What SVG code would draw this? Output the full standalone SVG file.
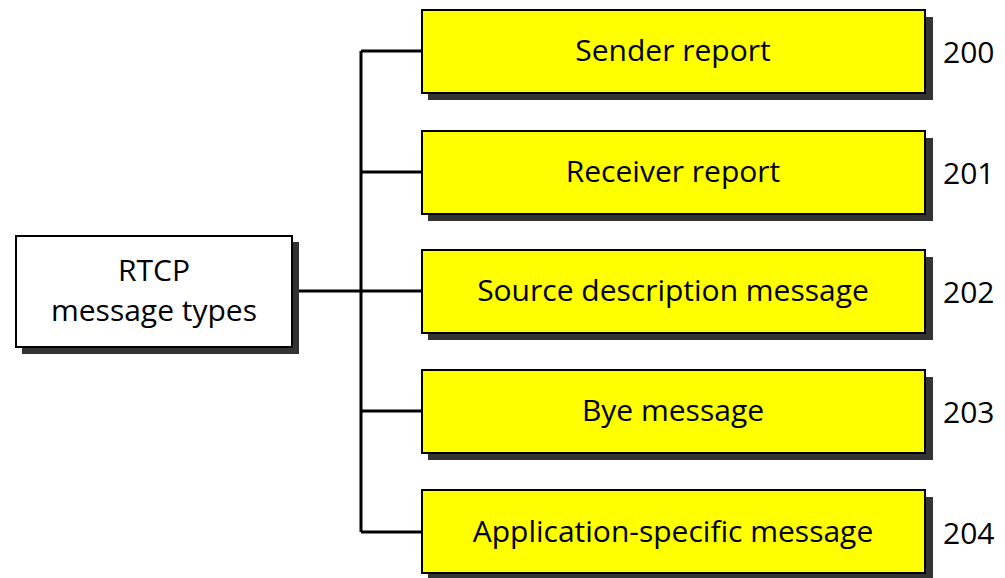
<svg xmlns="http://www.w3.org/2000/svg" width="1005" height="578" viewBox="0 0 1005 578">
<style>
.shadow{fill:#333333;}
.box{stroke:#000;stroke-width:2;}
.yel{fill:#ffff00;}
.wht{fill:#ffffff;}
.t{font-family:"Open Sans","Liberation Sans",sans-serif;font-size:30px;fill:#000;}
.c{text-anchor:middle;}
.line{stroke:#000;stroke-width:3;fill:none;}
</style>
<rect width="1005" height="578" fill="#fff"/>
<g id="connectors">
<path class="line" d="M292 291 H361 M361 51 V532 M361 51 H422 M361 172 H422 M361 291 H422 M361 411 H422 M361 532 H422"/>
</g>
<g id="root">
<rect class="shadow" x="22" y="242" width="277" height="112"/>
<rect class="box wht" x="16" y="236" width="276" height="111"/>
<text class="t c" x="154" y="281">RTCP</text>
<text class="t c" x="154" y="321">message types</text>
</g>
<g id="n200">
<rect class="shadow" x="428" y="17" width="505" height="83"/>
<rect class="box yel" x="422" y="10" width="503" height="83"/>
<text class="t c" x="673" y="61">Sender report</text>
<text class="t" x="943" y="63">200</text>
</g>
<g id="n201">
<rect class="shadow" x="428" y="138" width="505" height="83"/>
<rect class="box yel" x="422" y="131" width="503" height="83"/>
<text class="t c" x="673" y="182">Receiver report</text>
<text class="t" x="943" y="184">201</text>
</g>
<g id="n202">
<rect class="shadow" x="428" y="257" width="505" height="83"/>
<rect class="box yel" x="422" y="250" width="503" height="83"/>
<text class="t c" x="673" y="301">Source description message</text>
<text class="t" x="943" y="303">202</text>
</g>
<g id="n203">
<rect class="shadow" x="428" y="377" width="505" height="83"/>
<rect class="box yel" x="422" y="370" width="503" height="83"/>
<text class="t c" x="673" y="421">Bye message</text>
<text class="t" x="943" y="423">203</text>
</g>
<g id="n204">
<rect class="shadow" x="428" y="497" width="505" height="83"/>
<rect class="box yel" x="422" y="490" width="503" height="83"/>
<text class="t c" x="673" y="542">Application-specific message</text>
<text class="t" x="943" y="544">204</text>
</g>
</svg>
